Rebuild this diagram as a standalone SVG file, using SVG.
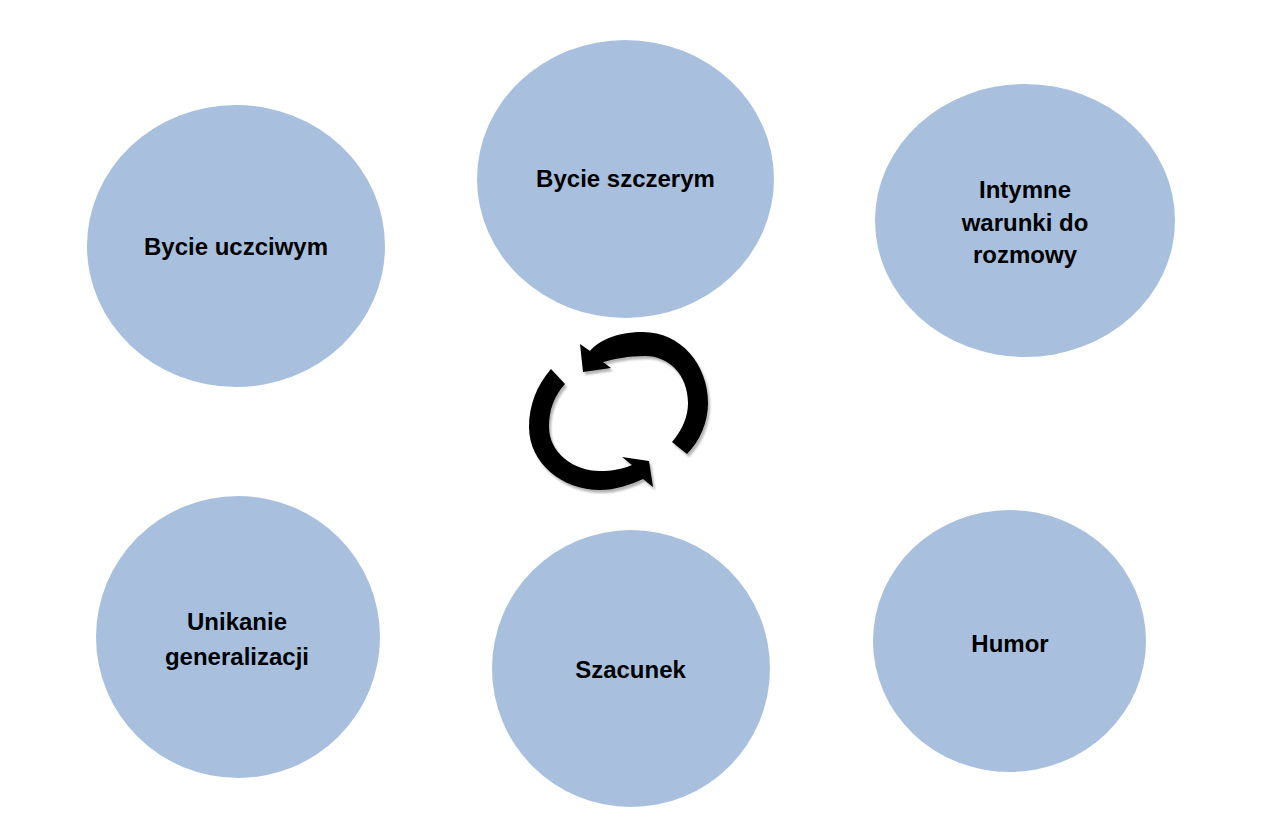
<svg xmlns="http://www.w3.org/2000/svg" width="1280" height="833" viewBox="0 0 1280 833">
<defs>
<style>
.node ellipse{fill:#A8C0DE;}
.node text{font-family:"Liberation Sans",Arial,sans-serif;font-weight:bold;font-size:24px;fill:#000;text-anchor:middle;}
.arrow{fill:#000;}
.shadow{fill:#777;opacity:0.55;}
</style>
<filter id="blur" x="-10%" y="-10%" width="120%" height="120%"><feGaussianBlur stdDeviation="1.2"/></filter>
<path id="arcTop" d="M580,344 L590,351 C600,339 620,332 643,332 C681,332 708,365 708,403 C708,422 700,441 687,454 L672,442 C683,429 688,416 688,403 C688,375 669,356 645,356 C628,356 614,359 603,362 L611,368 L583,372 Z"/>
<path id="arcBottom" d="M622,457 L632,465 C622,469 612,471 600,471 C574,471 549,453 549,427 C549,410 554,396 565,384 L551,369 C537,385 529,405 529,427 C529,463 562,490 600,490 C615,490 630,485 643,479 L653,487 L649,461 Z"/>
</defs>
<rect width="1280" height="833" fill="#fff"/>
<g id="n1" class="node"><ellipse cx="236" cy="246" rx="149" ry="141"/><text x="236" y="255">Bycie uczciwym</text></g>
<g id="n2" class="node"><ellipse cx="625.5" cy="179" rx="148.5" ry="139"/><text x="625.5" y="187">Bycie szczerym</text></g>
<g id="n3" class="node"><ellipse cx="1025" cy="220.5" rx="150" ry="136.5"/><text x="1025" y="198">Intymne</text><text x="1025" y="231">warunki do</text><text x="1025" y="263">rozmowy</text></g>
<g id="n4" class="node"><ellipse cx="238" cy="637" rx="142" ry="141"/><text x="237" y="630">Unikanie</text><text x="237" y="665">generalizacji</text></g>
<g id="n5" class="node"><ellipse cx="631" cy="668.5" rx="139" ry="138.5"/><text x="630.5" y="678">Szacunek</text></g>
<g id="n6" class="node"><ellipse cx="1009.5" cy="641" rx="136.5" ry="131"/><text x="1010" y="652">Humor</text></g>
<g id="connectors">
<g filter="url(#blur)" class="shadow" transform="translate(2,3)"><use href="#arcTop"/><use href="#arcBottom"/></g>
<use href="#arcTop" class="arrow"/>
<use href="#arcBottom" class="arrow"/>
</g>
</svg>
